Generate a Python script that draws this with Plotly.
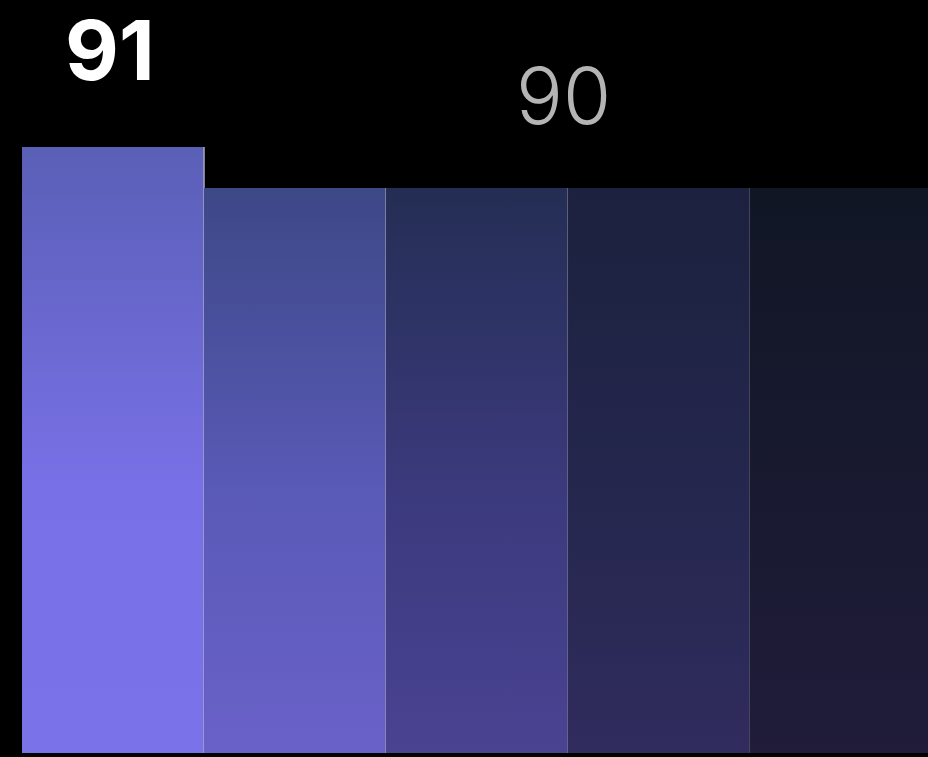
import plotly.graph_objects as go

# ---- data ----
categories = ["A", "B", "C", "D", "E"]
values = [91, 90, 90, 90, 90]

# ---- styles ----
top_colors = ["#5a5fb6", "#3d4886", "#242e54", "#1b213e", "#111625"]
mid_colors = ["#7870e6", "#5a5ab8", "#3c3a7e", "#25274e", "#191a31"]
bot_colors = ["#7a72e9", "#6a61c8", "#4a4392", "#302c5e", "#201c3a"]
edge_colors = ["#a8a4c4", "#9490b4", "#72708a", "#505060", "#3c3a46"]

Y_MIN, Y_MAX = 76.22, 94.585
X_MIN = -0.621
X_MAX = X_MIN + 928 / 182.0

fig = go.Figure()
xs = list(range(len(categories)))
for i, (x, v) in enumerate(zip(xs, values)):
    x0, x1 = x - 0.5, x + 0.5
    fig.add_trace(go.Scatter(
        x=[x0, x0, x1, x1, x0],
        y=[Y_MIN, v, v, Y_MIN, Y_MIN],
        mode="lines",
        fill="toself",
        line=dict(width=0),
        fillgradient=dict(
            type="vertical",
            start=Y_MIN,
            stop=v,
            colorscale=[[0, bot_colors[i]], [0.45, mid_colors[i]], [1, top_colors[i]]],
        ),
        hoverinfo="skip",
        showlegend=False,
    ))
    # right edge separator
    fig.add_trace(go.Scatter(
        x=[x1, x1], y=[Y_MIN, v], mode="lines",
        line=dict(color=edge_colors[i], width=1.5),
        hoverinfo="skip", showlegend=False,
    ))

# labels
max_v = max(values)
max_idx = [x for x, v in zip(xs, values) if v == max_v]
other_v = [v for v in values if v != max_v]
fig.add_annotation(
    x=sum(max_idx) / len(max_idx), y=max_v, text=str(max_v),
    showarrow=False, yanchor="bottom", yshift=45, xshift=-3,
    font=dict(family="Inter, Arial", size=83, color="#ffffff", weight="bold"),
)
if other_v:
    ov = other_v[0]
    o_idx = [x for x, v in zip(xs, values) if v == ov]
    fig.add_annotation(
        x=sum(o_idx) / len(o_idx), y=ov, text=str(ov),
        showarrow=False, yanchor="bottom", yshift=43, xshift=-5,
        font=dict(family="Inter, Arial", size=78, color="#b4b4b4", weight=300),
    )

fig.update_layout(
    width=928, height=757,
    margin=dict(l=0, r=0, t=0, b=4),
    paper_bgcolor="#000000", plot_bgcolor="#000000",
    xaxis=dict(range=[X_MIN, X_MAX], visible=False, fixedrange=True),
    yaxis=dict(range=[Y_MIN, Y_MAX], visible=False, fixedrange=True),
    showlegend=False,
)

fig.write_html(
    "out.html",
    config={"displayModeBar": False},
    post_script="document.body.style.margin='0';document.body.style.overflow='hidden';document.body.style.background='#000';",
)
